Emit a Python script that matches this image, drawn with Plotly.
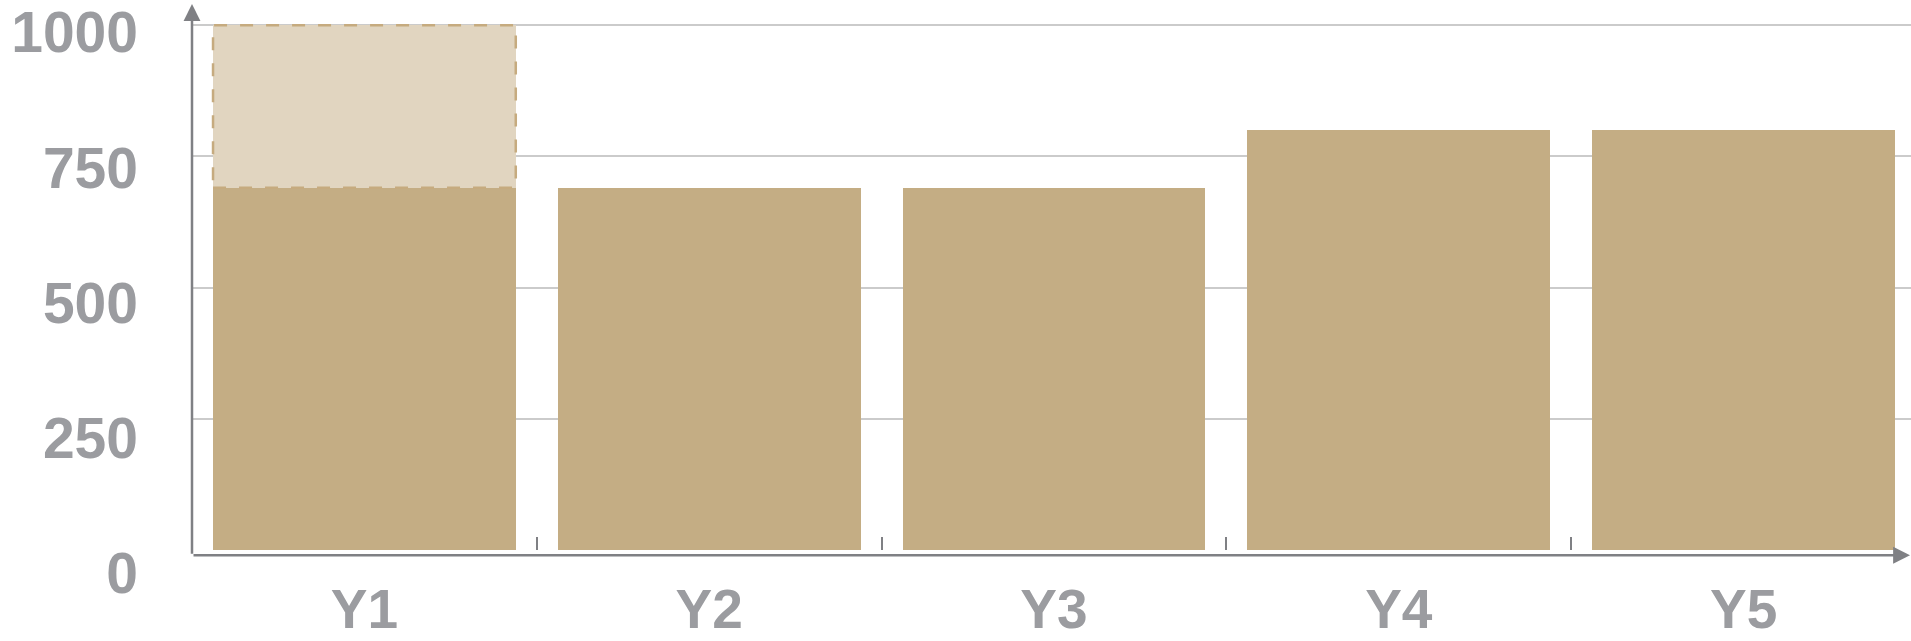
import plotly.graph_objects as go

# ---- data ----
categories = ["Y1", "Y2", "Y3", "Y4", "Y5"]
values = [690, 690, 690, 800, 800]
target_category = "Y1"
target_value = 1000
grid_ticks = [250, 500, 750, 1000]
label_ticks = [0, 250, 500, 750, 1000]
label_text = ["0", "250", "500", "750", "1000"]

# ---- style ----
BAR = "#c4ad84"
LIGHT = "#e1d5c0"
DASH = "#c6ab7f"
AXIS = "#7f8084"
GRID = "#cbcbcb"
LABEL = "#9b9ca0"
FONT = "Liberation Sans, Arial, sans-serif"
FSIZE = 57
XFSIZE = 55

# body margin removed by post_script; figure pixels == page pixels
OFF = 0
W, H = 1911 - OFF, 641 - OFF
ML, MR, MT, MB = 192 - OFF, 0, 4, 41
PLOT_H = H - MT - MB
bargap = 0.122
bar_w = 1 - bargap

# axis geometry (pixels from top of figure)
zero_px, top_px = 549.7 - OFF, 25.3 - OFF          # gridline scale
lab0_px, lab1000_px = 573.5 - OFF, 32.5 - OFF      # label scale
axis_line_px = 555.3 - OFF
bottom_px = H - MB
s1 = (zero_px - top_px) / 1000.0
y_min = -(bottom_px - zero_px) / s1
y_max = y_min + PLOT_H / s1
s2 = (lab0_px - lab1000_px) / 1000.0
y2_min = -(bottom_px - lab0_px) / s2
y2_max = y2_min + PLOT_H / s2
xaxis_pos = (bottom_px - zero_px) / PLOT_H
axisline_pos = (bottom_px - axis_line_px) / PLOT_H
x_max = -0.5 + (W - ML - MR) / 344.8

idx = categories.index(target_category)

fig = go.Figure()
fig.add_bar(x=categories, y=values, marker=dict(color=BAR, line_width=0),
            hoverinfo="skip", showlegend=False)
fig.add_bar(x=[target_category], y=[target_value - values[idx]],
            marker=dict(color=LIGHT, line_width=0), hoverinfo="skip", showlegend=False)
# invisible trace to activate the label axis
fig.add_scatter(x=[categories[0]], y=[0], yaxis="y2", mode="markers",
                marker=dict(opacity=0), hoverinfo="skip", showlegend=False)

fig.add_shape(type="rect", xref="x", yref="y",
              x0=idx - bar_w / 2, x1=idx + bar_w / 2,
              y0=values[idx], y1=target_value,
              line=dict(color=DASH, width=2.5, dash="13px,13px"),
              fillcolor="rgba(0,0,0,0)", layer="above")

# axis lines with arrowheads
fig.add_annotation(xref="paper", yref="paper", x=0, y=1, ax=0, ay=axis_line_px - MT,
                   axref="pixel", ayref="pixel", text="", showarrow=True,
                   arrowhead=2, arrowsize=1.35, arrowwidth=2.5, arrowcolor=AXIS)
fig.add_annotation(xref="paper", yref="paper", x=1, y=axisline_pos, ax=-(W - ML - MR), ay=0,
                   axref="pixel", ayref="pixel", text="", showarrow=True,
                   arrowhead=2, arrowsize=1.35, arrowwidth=2.5, arrowcolor=AXIS)

fig.update_layout(
    width=W, height=H, autosize=False,
    margin=dict(l=ML, r=MR, t=MT, b=MB, pad=0),
    paper_bgcolor="white", plot_bgcolor="white",
    barmode="stack", bargap=bargap,
    showlegend=False, hovermode=False,
    font=dict(family=FONT, color=LABEL),
    xaxis=dict(type="category", categoryorder="array", categoryarray=categories,
               range=[-0.5, x_max], anchor="free", position=xaxis_pos,
               showline=False, showgrid=False, zeroline=False,
               ticks="inside", ticklen=13, tickwidth=2, tickcolor=AXIS,
               tickson="boundaries", ticklabeloverflow="allow",
               tickfont=dict(family=FONT, size=XFSIZE, color=LABEL, weight="bold"),
               ticklabelstandoff=22, automargin=False),
    yaxis=dict(range=[y_min, y_max], tickvals=grid_ticks, showticklabels=False,
               showgrid=True, gridcolor=GRID, gridwidth=1.5, zeroline=False,
               showline=False, ticks="", automargin=False),
    yaxis2=dict(overlaying="y", side="left", anchor="free", position=0,
                range=[y2_min, y2_max], tickvals=label_ticks, ticktext=label_text,
                showgrid=False, zeroline=False, showline=False, ticks="",
                ticklabeloverflow="allow",
                tickfont=dict(family=FONT, size=FSIZE, color=LABEL, weight="bold"),
                ticklabelstandoff=54, automargin=False),
)

fig.write_html("out.html",
               config={"displayModeBar": False},
               post_script="document.body.style.margin='0';document.body.style.overflow='hidden';")
